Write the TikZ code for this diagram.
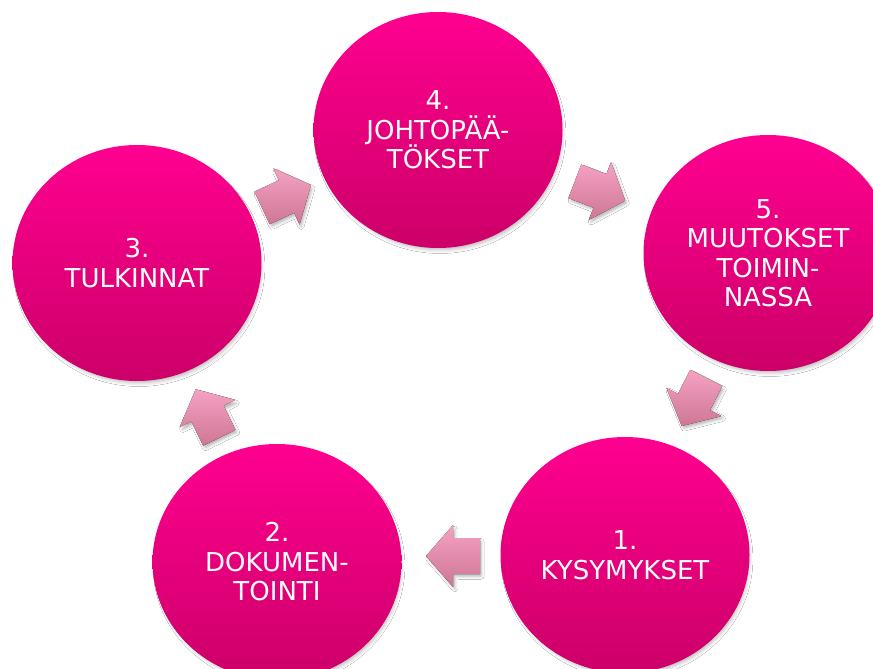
\documentclass[tikz,border=0pt]{standalone}
\usepackage{fontspec}
\setmainfont{DejaVu Sans}
\usetikzlibrary{shapes.geometric,shadows.blur,calc}
\definecolor{ctop}{RGB}{255,0,144}
\definecolor{cbot}{RGB}{204,0,104}
\definecolor{atop}{RGB}{245,162,194}
\definecolor{abot}{RGB}{206,118,150}
\tikzset{
  stage/.style={ellipse, minimum width=249pt, minimum height=236pt, inner sep=0pt,
    top color=ctop, bottom color=cbot, text=white, align=center,
    font=\fontsize{26}{29.5}\selectfont,
    blur shadow={shadow xshift=2pt, shadow yshift=-4pt, shadow scale=0.98, shadow blur radius=4pt, shadow opacity=30}},
  blockarrow/.style={top color=atop, bottom color=abot,
    blur shadow={shadow xshift=2pt, shadow yshift=-3pt, shadow scale=0.97, shadow blur radius=3pt, shadow opacity=30}}
}
\newcommand{\cyclearrow}[2]{% center coordinate name, angle
  \fill[blockarrow] ($(#1)+(#2:-27)+(#2+90:18)$) -- ($(#1)+(#2+90:18)$) -- ($(#1)+(#2+90:31)$)
    -- ($(#1)+(#2:27)$) -- ($(#1)+(#2-90:31)$) -- ($(#1)+(#2-90:18)$)
    -- ($(#1)+(#2:-27)+(#2-90:18)$) -- cycle;}
\begin{document}
\begin{tikzpicture}[x=1pt,y=1pt]
  \useasboundingbox (0,0) rectangle (873,-669);
  \fill[white] (0,0) rectangle (873,-669);
  \node[stage] (c1) at (625,-555) {1.\\KYSYMYKSET};
  \node[stage] (c2) at (277,-562) {2.\\DOKUMEN-\\TOINTI};
  \node[stage] (c3) at (137,-263) {3.\\TULKINNAT};
  \node[stage] (c4) at (438,-130) {4.\\JOHTOPÄÄ-\\TÖKSET};
  \node[stage] (c5) at (768,-253) {5.\\MUUTOKSET\\TOIMIN-\\NASSA};
  \coordinate (a12) at (453,-556);
  \coordinate (a23) at (207.5,-413.5);
  \coordinate (a34) at (286.5,-196.5);
  \coordinate (a45) at (600,-191);
  \coordinate (a51) at (694,-402);
  \cyclearrow{a12}{180}
  \cyclearrow{a23}{116}
  \cyclearrow{a34}{25}
  \cyclearrow{a45}{-21}
  \cyclearrow{a51}{-117}
\end{tikzpicture}
\end{document}
